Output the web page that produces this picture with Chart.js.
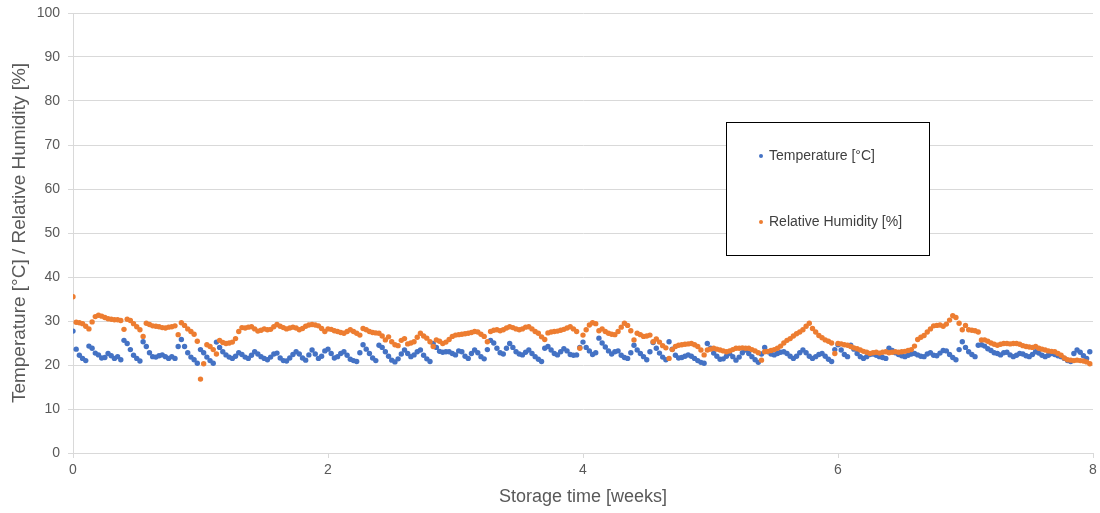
<!DOCTYPE html>
<html>
<head>
<meta charset="utf-8">
<script src="https://cdn.jsdelivr.net/npm/chart.js@4.4.1/dist/chart.umd.min.js"></script>
<style>
  html, body { margin: 0; padding: 0; background: #ffffff; }
  #wrap { width: 1100px; height: 513px; }
</style>
</head>
<body>
<div id="wrap"><canvas id="chart" width="1100" height="513"></canvas></div>
<script>
// Logger readings, one sample every 0.025 weeks starting at week 0
const sampleStepWeeks = 0.025;

const temperature = [
  27.7,23.6,22.2,21.5,21.0,24.3,23.8,22.7,22.3,21.6,21.7,22.6,22.1,21.5,21.9,21.2,25.6,24.9,23.5,22.2,
  21.5,20.9,25.3,24.2,22.8,21.9,21.8,22.1,22.3,21.9,21.5,21.9,21.5,24.2,25.8,24.2,22.8,21.8,21.2,20.4,
  23.5,22.8,21.8,21.0,20.4,25.2,24.0,23.0,22.3,21.8,21.5,22.0,22.8,22.4,21.8,21.5,22.2,23.0,22.5,21.9,
  21.5,21.2,21.8,22.5,22.7,21.6,21.0,20.9,21.6,22.4,23.0,22.5,21.6,21.1,22.3,23.4,22.5,21.5,22.0,23.2,
  23.6,22.6,21.6,21.9,22.6,23.0,22.2,21.3,21.0,20.8,22.8,24.6,23.6,22.6,21.6,21.0,24.5,24.0,23.0,22.0,
  21.1,20.7,21.4,22.5,23.4,22.6,21.9,22.3,23.0,23.4,22.2,21.4,20.8,24.9,24.0,23.1,22.9,23.0,23.0,22.6,
  22.3,23.2,23.0,22.0,21.5,22.6,23.4,22.8,21.9,21.4,23.5,25.6,25.0,23.8,22.8,22.5,23.8,24.9,24.0,23.0,
  22.5,22.3,22.9,23.4,22.6,21.9,21.3,20.8,23.8,24.2,23.4,22.6,22.3,23.0,23.7,23.2,22.4,22.2,22.3,24.0,
  25.2,24.0,23.2,22.4,22.8,26.1,25.0,24.1,23.2,22.5,23.0,23.2,22.2,21.7,21.5,22.8,24.5,23.4,22.6,21.9,
  21.2,23.0,25.1,23.8,22.7,21.8,21.2,25.3,23.6,22.2,21.6,21.7,22.0,22.3,22.0,21.5,21.0,20.6,20.4,24.9,
  23.8,22.7,22.0,21.3,21.4,22.0,22.6,21.9,21.1,21.8,22.8,23.4,22.6,21.9,21.2,20.6,22.5,24.0,23.0,22.5,
  22.3,22.6,22.9,23.0,22.6,22.0,21.5,22.0,22.8,23.4,22.8,22.0,21.5,21.9,22.4,22.6,22.0,21.3,20.8,23.5,
  24.6,23.4,22.4,21.9,24.5,23.6,22.6,21.9,21.5,21.9,22.4,22.5,22.2,21.9,21.7,21.5,23.8,23.3,22.8,22.4,
  22.1,21.9,22.2,22.5,22.6,22.3,22.0,21.9,22.5,22.8,22.2,22.1,22.7,23.3,23.2,22.4,21.7,21.2,23.5,25.3,
  24.0,23.0,22.4,21.9,24.5,24.6,24.3,23.7,23.3,22.8,22.6,22.3,22.8,22.9,22.3,21.9,22.2,22.6,22.5,22.1,
  21.9,22.4,23.0,22.7,22.2,21.9,22.2,22.6,22.4,22.1,21.9,21.5,21.0,20.8,22.6,23.4,22.9,22.1,21.5,23.0
];

const humidity = [
  35.5,29.7,29.6,29.4,28.8,28.2,29.8,31.0,31.3,31.1,30.8,30.5,30.4,30.3,30.3,30.1,28.1,30.4,30.1,29.4,
  28.7,28.0,26.5,29.5,29.2,28.9,28.8,28.7,28.5,28.4,28.6,28.7,28.9,26.9,29.6,29.0,28.2,27.6,27.0,25.4,
  16.8,20.3,24.6,24.2,23.5,22.5,25.6,25.1,24.9,25.0,25.2,26.0,27.6,28.5,28.4,28.6,28.7,28.2,27.7,27.9,
  28.2,28.0,28.1,28.7,29.2,28.8,28.5,28.2,28.4,28.6,28.4,28.0,28.3,28.8,29.1,29.2,29.1,28.9,28.3,27.6,
  28.2,28.1,27.8,27.6,27.4,27.2,27.6,28.0,27.6,27.2,26.8,28.3,28.0,27.6,27.4,27.3,27.2,26.6,25.7,26.4,
  25.3,24.6,24.4,25.6,26.0,24.8,25.0,25.3,26.3,27.2,26.6,26.1,25.3,24.2,25.7,25.4,24.9,25.2,25.8,26.5,
  26.8,26.9,27.0,27.1,27.2,27.4,27.6,27.5,27.0,26.5,25.3,27.6,27.9,28.0,27.8,28.0,28.4,28.7,28.5,28.2,
  28.0,28.2,28.6,28.7,28.2,27.6,27.2,26.4,25.8,27.3,27.5,27.6,27.7,27.9,28.1,28.4,28.7,28.2,27.6,23.8,
  26.8,28.0,29.1,29.6,29.4,27.8,28.2,27.6,27.2,27.0,26.9,27.6,28.6,29.5,29.0,27.8,25.7,27.2,26.9,26.5,
  26.6,26.8,25.3,25.9,25.2,24.4,23.9,21.5,23.5,24.2,24.5,24.6,24.7,24.8,24.9,24.6,24.2,23.4,22.3,23.4,
  23.6,23.8,23.6,23.4,23.2,23.0,23.2,23.5,23.8,23.8,23.9,23.8,23.8,23.5,23.2,22.8,21.1,23.0,23.1,23.3,
  23.5,23.8,24.3,25.0,25.6,26.0,26.6,27.1,27.5,28.0,28.8,29.5,28.3,27.5,26.7,26.2,25.7,25.4,25.0,22.6,
  24.9,24.8,24.6,24.5,24.2,23.9,23.7,23.4,23.1,22.9,22.6,22.8,22.9,22.7,22.9,23.0,22.8,22.9,23.0,22.9,
  23.0,23.1,23.3,23.5,24.3,25.8,26.3,26.7,27.5,28.2,28.9,29.0,29.1,28.8,29.3,30.2,31.2,30.8,29.5,28.0,
  29.0,28.0,27.9,27.8,27.5,25.7,25.7,25.4,25.0,24.7,24.5,24.7,24.9,24.9,24.8,24.9,24.9,24.7,24.4,24.2,
  24.1,24.0,24.2,23.8,23.6,23.4,23.2,23.1,23.0,22.6,22.2,21.6,21.2,21.1,21.0,21.1,21.0,20.9,20.7,20.3
];

const seriesNames = ['Temperature [°C]', 'Relative Humidity [%]'];
const weekTicks = [0, 2, 4, 6, 8];
const valueTicks = [0, 10, 20, 30, 40, 50, 60, 70, 80, 90, 100];

const toPoints = values => values.map((v, i) => ({ x: i * sampleStepWeeks, y: v }));

const FONT = "'Liberation Sans', Arial, sans-serif";
const TEXT = '#595959';
const GRID = '#d9d9d9';

// Boxed legend drawn inside the plot, right of centre
const boxedLegend = {
  id: 'boxedLegend',
  afterDraw(chart) {
    const ctx = chart.ctx;
    ctx.save();
    ctx.strokeStyle = '#000000';
    ctx.lineWidth = 1;
    ctx.fillStyle = '#ffffff';
    ctx.fillRect(726, 122, 203, 133);
    ctx.strokeRect(726.5, 122.5, 203, 133);
    const rows = [156, 222];
    chart.data.datasets.forEach((ds, i) => {
      ctx.beginPath();
      ctx.fillStyle = ds.backgroundColor;
      ctx.arc(761, rows[i], 2, 0, Math.PI * 2);
      ctx.fill();
      ctx.fillStyle = '#404040';
      ctx.font = '14px ' + FONT;
      ctx.textBaseline = 'middle';
      ctx.textAlign = 'left';
      ctx.fillText(ds.label, 769, rows[i]);
    });
    ctx.restore();
  }
};

new Chart(document.getElementById('chart'), {
  type: 'scatter',
  data: {
    datasets: [
      {
        label: seriesNames[0],
        data: toPoints(temperature),
        backgroundColor: '#4472C4',
        borderColor: '#4472C4',
        pointRadius: 2.7,
        pointBorderWidth: 0,
        order: 1
      },
      {
        label: seriesNames[1],
        data: toPoints(humidity),
        backgroundColor: '#ED7D31',
        borderColor: '#ED7D31',
        pointRadius: 2.7,
        pointBorderWidth: 0,
        order: 0
      }
    ]
  },
  options: {
    responsive: false,
    animation: false,
    devicePixelRatio: 1,
    layout: { padding: { left: 0, right: 7, top: 13, bottom: 0 } },
    plugins: {
      legend: { display: false },
      tooltip: { enabled: false }
    },
    scales: {
      x: {
        type: 'linear',
        min: 0,
        max: 8,
        afterBuildTicks: s => { s.ticks = weekTicks.map(v => ({ value: v })); },
        afterFit: s => { s.height = 60; s.paddingLeft = 0; s.paddingRight = 0; },
        grid: {
          drawOnChartArea: false,
          drawTicks: true,
          tickLength: 5,
          color: GRID
        },
        border: { color: GRID },
        ticks: {
          color: TEXT,
          font: { family: FONT, size: 14 },
          padding: 4,
          maxRotation: 0
        },
        title: {
          display: true,
          text: 'Storage time [weeks]',
          color: TEXT,
          font: { family: FONT, size: 18 },
          padding: { top: 0, bottom: 5 }
        }
      },
      y: {
        min: 0,
        max: 100,
        afterBuildTicks: s => { s.ticks = valueTicks.map(v => ({ value: v })); },
        afterFit: s => { s.width = 73; s.paddingTop = 0; s.paddingBottom = 0; },
        grid: {
          color: GRID,
          tickLength: 5
        },
        border: { color: GRID },
        ticks: {
          color: TEXT,
          font: { family: FONT, size: 14 },
          padding: 8
        },
        title: {
          display: true,
          text: 'Temperature [°C] / Relative Humidity [%]',
          color: TEXT,
          font: { family: FONT, size: 19 },
          padding: { top: 8, bottom: 0 }
        }
      }
    }
  },
  plugins: [boxedLegend]
});
</script>
</body>
</html>
